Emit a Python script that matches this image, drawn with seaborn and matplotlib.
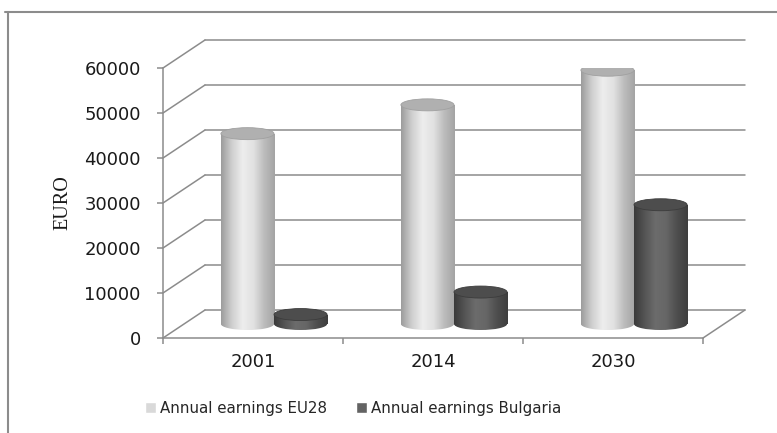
import numpy as np
import pandas as pd
import matplotlib
matplotlib.use("Agg")
import matplotlib.pyplot as plt
import seaborn as sns
from matplotlib.patches import Ellipse, Patch
from matplotlib.lines import Line2D
from matplotlib.transforms import ScaledTranslation
from matplotlib.colors import LinearSegmentedColormap

# ---- data ----
years = ["2001", "2014", "2030"]
eu28 = [42300, 48700, 56400]
bulgaria = [2100, 7100, 26500]
series = ["Annual earnings EU28", "Annual earnings Bulgaria"]
y_ticks = [0, 10000, 20000, 30000, 40000, 50000, 60000]

sns.set_theme(style="white")
plt.rcParams['font.family'] = ['DejaVu Sans']

W, H = 777, 433
DPI = 100
fig = plt.figure(figsize=(W / DPI, H / DPI), dpi=DPI)
ax = fig.add_axes([163 / W, 1 - 338 / H, 540 / W, 270 / H])

light, dark = "#d9d9d9", "#636363"
df = pd.DataFrame({
    "year": years * 2,
    "value": eu28 + bulgaria,
    "series": [series[0]] * 3 + [series[1]] * 3,
})
sns.barplot(data=df, x="year", y="value", hue="series", palette=[light, dark],
            width=0.59, dodge=True, ax=ax, legend=False, saturation=1,
            err_kws={"linewidth": 0})
ax.set_xlim(-0.5, 2.5)
ax.set_ylim(0, 60000)

grid_c = "#8c8c8c"
# depth offsets (pixels) -> data units
dx_px, dy_px = 42, 28
dxu = dx_px * 3 / 540
dyu = dy_px * 60000 / 270

for v in y_ticks:
    ax.plot([-0.5, -0.5 + dxu], [v, v + dyu], color=grid_c, lw=1.1, clip_on=False, zorder=0.5)
    ax.plot([-0.5 + dxu, 2.5 + dxu], [v + dyu, v + dyu], color=grid_c, lw=1.1, clip_on=False, zorder=0.5)
ax.plot([2.5, 2.5 + dxu], [0, dyu], color=grid_c, lw=1.1, clip_on=False, zorder=0.5)

# cylinders
off = ScaledTranslation(dx_px / 2 / DPI, dy_px / 2 / DPI, fig.dpi_scale_trans)
trans = ax.transData + off
eh = 12 * 60000 / 270

cm_light = LinearSegmentedColormap.from_list(
    "l", ["#9c9c9c", "#cfcfcf", "#ededed", "#e2e2e2", "#bdbdbd", "#a4a4a4"])
cm_dark = LinearSegmentedColormap.from_list(
    "d", ["#3a3a3a", "#555555", "#6c6c6c", "#666666", "#4e4e4e", "#3e3e3e"])
top_cols = ["#b0b0b0", "#4d4d4d"]
edge_cols = ["#a0a0a0", "#3c3c3c"]
grad = np.linspace(0, 1, 200)

for ci, (cont, cm) in enumerate(zip(ax.containers, [cm_light, cm_dark])):
    for bar in cont:
        x0, w, h = bar.get_x(), bar.get_width(), bar.get_height()
        cx = x0 + w / 2
        bar.set_transform(trans)
        bar.set_edgecolor("none")
        bar.set_zorder(2)
        rgb = cm(grad)[np.newaxis, :, :3]
        im1 = ax.imshow(rgb, extent=[x0, x0 + w, 0, h], aspect="auto",
                        transform=trans, zorder=3, interpolation="bilinear")
        im1.set_clip_path(bar)
        bot = Ellipse((cx, 0), w, eh, transform=trans)
        im2 = ax.imshow(rgb, extent=[x0, x0 + w, -eh / 2, eh / 2], aspect="auto",
                        transform=trans, zorder=3, interpolation="bilinear")
        im2.set_clip_path(bot)
        top = Ellipse((cx, h), w, eh, transform=trans, facecolor=top_cols[ci],
                      edgecolor=edge_cols[ci], lw=0.6, zorder=4)
        ax.add_patch(top)

ax.set_xlim(-0.5, 2.5)
ax.set_ylim(0, 60000)

# axes styling
for s in ["top", "right"]:
    ax.spines[s].set_visible(False)
for s in ["left", "bottom"]:
    ax.spines[s].set_color(grid_c)
    ax.spines[s].set_linewidth(1.1)
ax.set_yticks(y_ticks)
ax.set_yticklabels([str(t) for t in y_ticks])
ax.set_xticks([0, 1, 2])
ax.set_xticklabels(years)
ax.set_xticks([-0.5, 0.5, 1.5, 2.5], minor=True)
ax.tick_params(axis="y", which="major", left=True, length=4, width=1.1, color=grid_c,
               pad=12, labelsize=13, labelcolor="#1a1a1a")
ax.tick_params(axis="x", which="major", bottom=False, length=0, pad=11,
               labelsize=13, labelcolor="#1a1a1a")
ax.tick_params(axis="x", which="minor", bottom=True, length=4, width=1.1, color=grid_c)
ax.set_xlabel("")
ax.set_ylabel("")
ax.grid(False)
ax.set_facecolor("none")

fig.text(63 / W, 1 - 203 / H, "EURO", rotation=90, ha="center", va="center",
         fontsize=14.5, family=["Liberation Serif", "DejaVu Serif"], color="#1a1a1a")

handles = [Patch(facecolor=light), Patch(facecolor=dark)]
fig.legend(handles, series, loc="center", bbox_to_anchor=(353 / W, 1 - 408 / H),
           ncol=2, frameon=False, handlelength=0.75, handleheight=0.75,
           handletextpad=0.25, columnspacing=1.9, fontsize=10.8)

# outer border fragments
fig.add_artist(Line2D([5 / W, 1], [1 - 12 / H, 1 - 12 / H], color=grid_c, lw=1.5))
fig.add_artist(Line2D([8 / W, 8 / W], [1 - 12 / H, 0], color=grid_c, lw=1.5))

fig.savefig("out.png", dpi=DPI)
